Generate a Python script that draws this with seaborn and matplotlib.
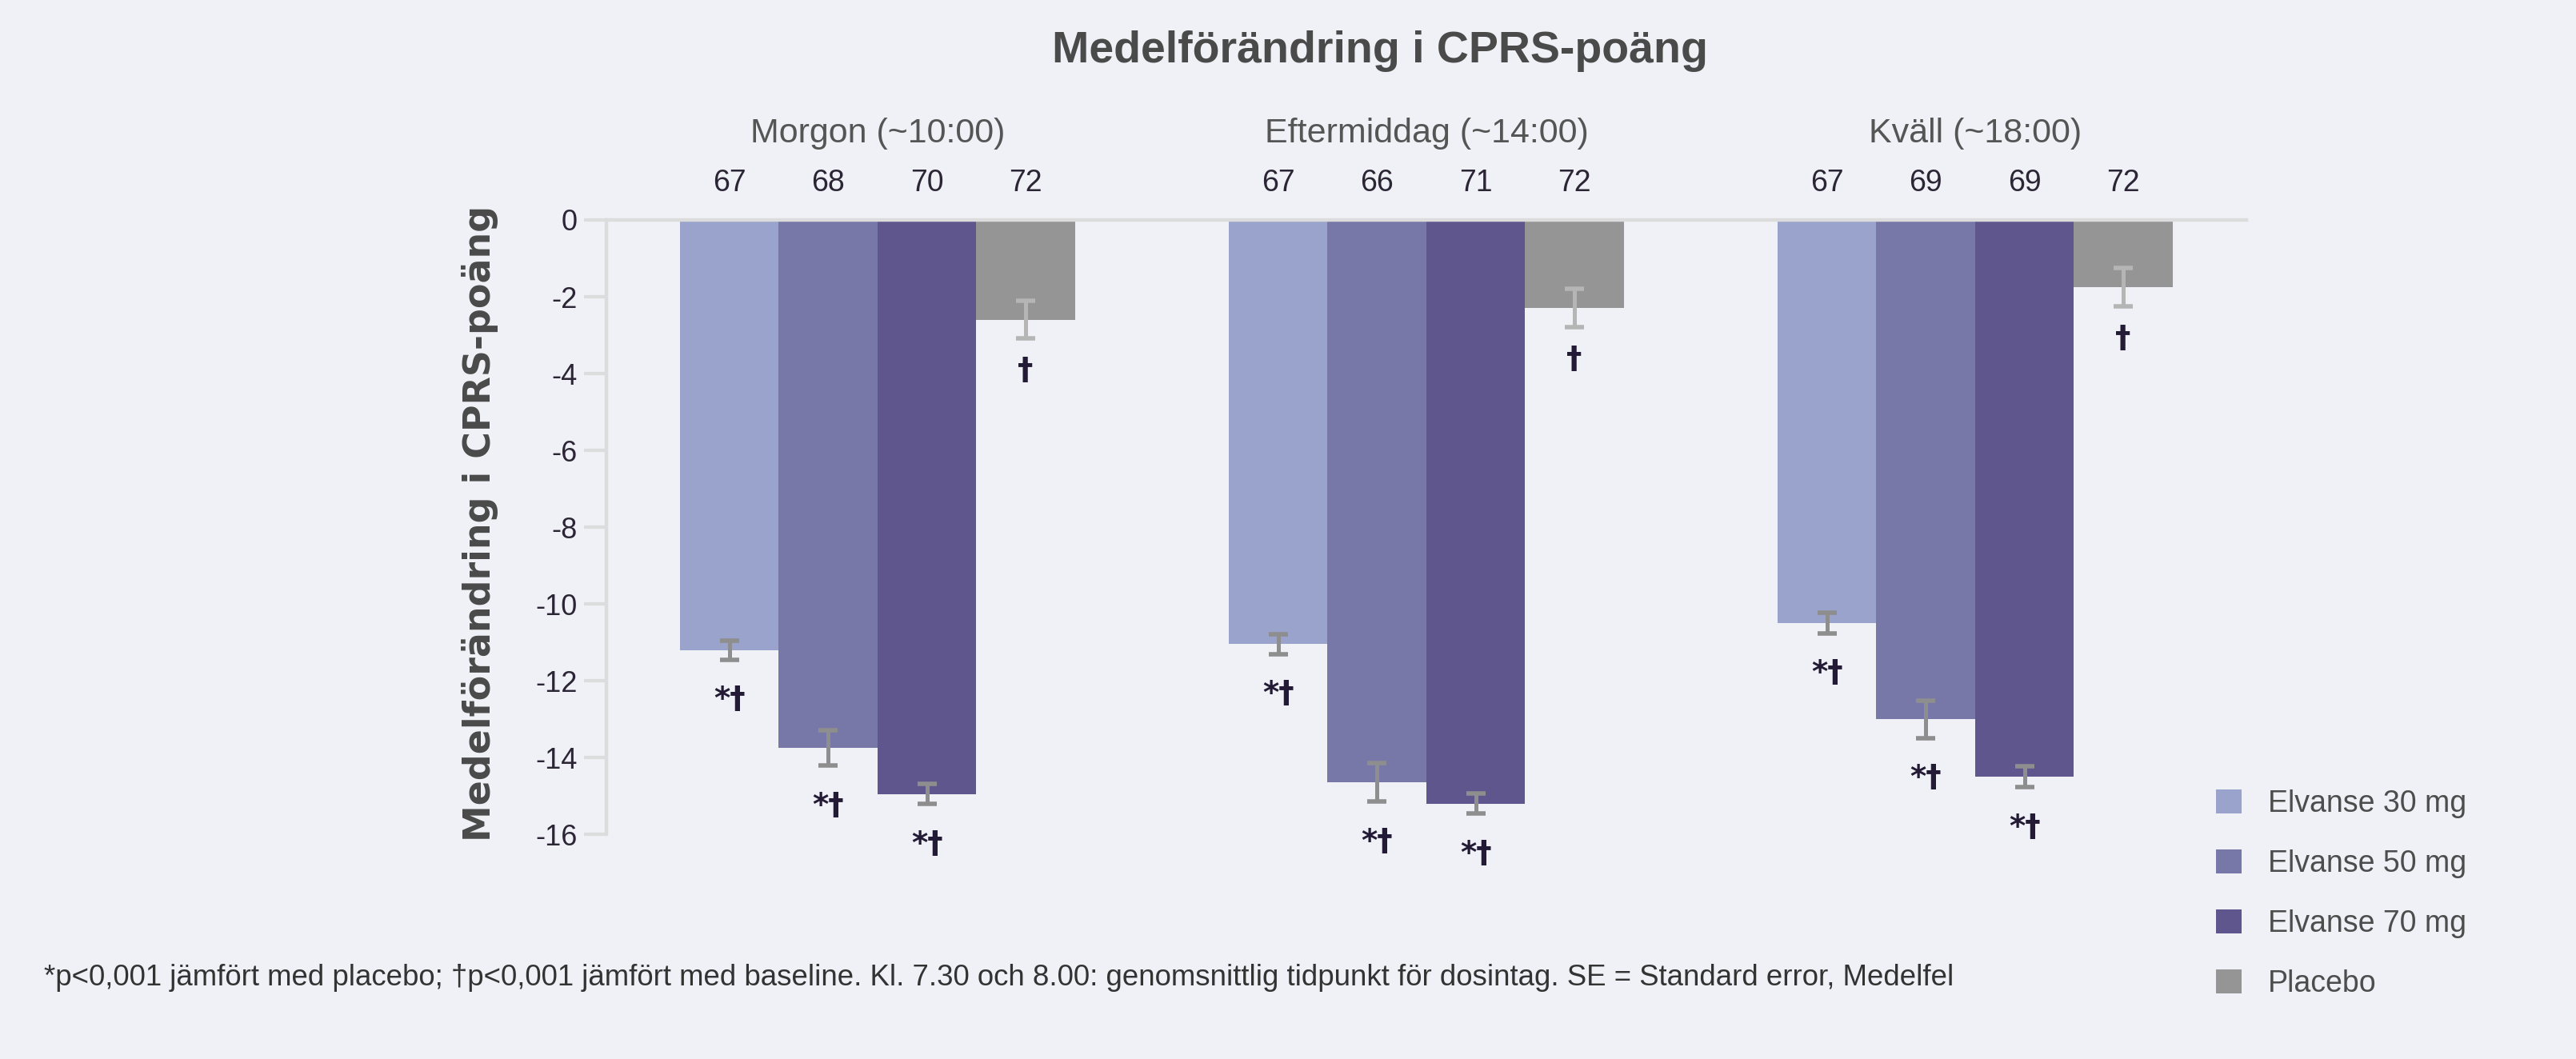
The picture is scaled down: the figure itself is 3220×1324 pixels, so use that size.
import matplotlib
matplotlib.use("Agg")
import matplotlib.pyplot as plt
from matplotlib.patches import Patch
import seaborn as sns
import pandas as pd

# values
timepoints = ["Morgon (~10:00)", "Eftermiddag (~14:00)", "Kväll (~18:00)"]
arms = ["Elvanse 30 mg", "Elvanse 50 mg", "Elvanse 70 mg", "Placebo"]

elv30 = [-11.2, -11.05, -10.5]
elv50 = [-13.75, -14.65, -13.0]
elv70 = [-14.95, -15.2, -14.5]
placebo = [-2.6, -2.3, -1.75]

se30 = [0.25, 0.26, 0.27]
se50 = [0.46, 0.50, 0.49]
se70 = [0.26, 0.26, 0.28]
se_placebo = [0.49, 0.50, 0.50]

n30 = [67, 67, 67]
n50 = [68, 66, 69]
n70 = [70, 71, 69]
n_placebo = [72, 72, 72]

sig = ["*†", "*†", "*†", "†"]
yticks = [0, -2, -4, -6, -8, -10, -12, -14, -16]

footnote = ("*p<0,001 jämfört med placebo; †p<0,001 jämfört med baseline. "
            "Kl. 7.30 och 8.00: genomsnittlig tidpunkt för dosintag. "
            "SE = Standard error, Medelfel")

colors = ["#99a3cb", "#7878a8", "#60568e", "#959595"]
err_colors = ["#8e8e8e", "#8e8e8e", "#8e8e8e", "#b5b5b5"]
sig_gap = [1.05, 1.05, 1.05, 0.85]
bg = "#f0f1f6"

means = [elv30, elv50, elv70, placebo]
ses = [se30, se50, se70, se_placebo]
ns = [n30, n50, n70, n_placebo]

rows = []
for arm, m, s, n in zip(arms, means, ses, ns):
    for t, mv, sv, nv in zip(timepoints, m, s, n):
        rows.append({"tid": t, "arm": arm, "change": mv, "se": sv, "n": nv})
df = pd.DataFrame(rows)

sns.set_theme(style="white")
plt.rcParams["font.family"] = ["Liberation Sans", "DejaVu Sans"]
plt.rcParams["axes.unicode_minus"] = False

fig = plt.figure(figsize=(16.1, 6.62), dpi=200, facecolor=bg)
ax = fig.add_axes([0.2354, 0.2122, 0.6366, 0.5801])
ax.set_facecolor(bg)

sns.barplot(data=df, x="tid", y="change", hue="arm", order=timepoints,
            hue_order=arms, palette=colors, saturation=1, width=0.72,
            linewidth=0, errorbar=None, legend=False, ax=ax)

bar_groups = list(ax.containers)
for i, cont in enumerate(bar_groups):
    for j, bar in enumerate(cont):
        x = bar.get_x() + bar.get_width() / 2
        m = means[i][j]
        s = ses[i][j]
        ax.errorbar(x, m, yerr=s, color=err_colors[i], elinewidth=1.8,
                    capsize=4.2, capthick=2.0, zorder=3)
        ax.text(x, m - s - sig_gap[i], sig[i], ha="center", va="center",
                fontsize=14, color="#231b35", fontweight="bold",
                family=["DejaVu Sans"])
        ax.text(x, 0.95, str(ns[i][j]), ha="center", va="center",
                fontsize=13.5, color="#2b2536", clip_on=False)

for k, t in enumerate(timepoints):
    ax.text(k, 2.25, t, ha="center", va="center", fontsize=15.5,
            color="#555555", clip_on=False)

ax.set_xlim(-0.494, 2.494)
ax.set_ylim(-16, 0)
ax.set_yticks(yticks)
ax.set_yticklabels([str(v) for v in yticks], fontsize=13, color="#2b2536")
ax.set_xticks([])
ax.set_xlabel("")
ax.set_ylabel("")
ax.tick_params(axis="y", length=10, width=1.5, color="#dcdcdc", pad=3, left=True)

for side in ["bottom", "right"]:
    ax.spines[side].set_visible(False)
ax.spines["left"].set_color("#dcdcdc")
ax.spines["left"].set_linewidth(1.6)
ax.spines["top"].set_color("#dcdcdc")
ax.spines["top"].set_linewidth(1.6)

fig.text(0.5357, 0.952, "Medelförändring i CPRS-poäng", ha="center", va="center",
         fontsize=20, fontweight="bold", color="#4a4a4a",
         family=["Liberation Sans Narrow", "Liberation Sans"])
fig.text(0.1863, 0.5057, "Medelförändring i CPRS-poäng", ha="center", va="center",
         rotation=90, fontsize=16.5, fontweight="bold", color="#4a4a4a",
         family=["DejaVu Sans"])

handles = [Patch(facecolor=c, edgecolor="none") for c in colors]
fig.legend(handles, arms, loc="upper left", bbox_to_anchor=(0.8603, 0.2545),
           frameon=False, fontsize=13.5, handlelength=0.85, handleheight=0.85,
           handletextpad=0.88, labelspacing=1.04, borderpad=0, borderaxespad=0,
           labelcolor="#4d4d4d")

fig.text(55 / 3220, 1 - 1222 / 1324, footnote, ha="left", va="center",
         fontsize=13.2, color="#333333")

fig.savefig("out.png", dpi=200, facecolor=bg)
